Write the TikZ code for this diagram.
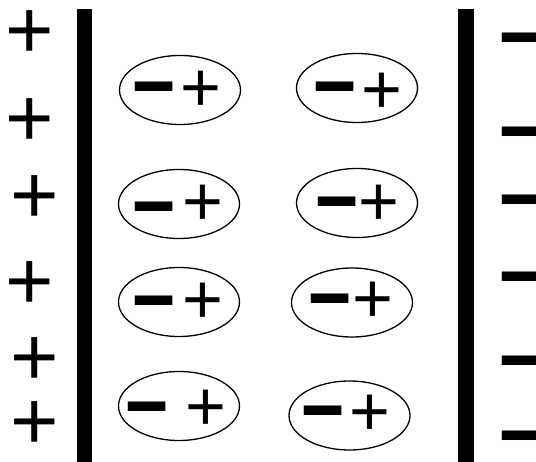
\documentclass[tikz,border=0pt]{standalone}
\usepackage{fontspec}
\usepackage{graphicx}
\setmainfont{Liberation Sans}
\usetikzlibrary{shapes.geometric}
\tikzset{>=latex,
  dipole/.style={draw, ellipse, line width=1.3pt, minimum width=121pt, minimum height=69pt, inner sep=0pt},
  bigplus/.style={inner sep=0pt, text height=48.9pt, text depth=-9.7pt, font=\fontsize{83}{83}\selectfont},
  smallplus/.style={inner sep=0pt, text height=41.2pt, text depth=-8.2pt, font=\fontsize{70}{70}\selectfont},
  thickminus/.style={inner sep=0pt, text height=27pt, text depth=-16pt, yshift=-7pt, font=\fontsize{80}{80}\selectfont\bfseries}}
\newcommand{\thickbar}{\scalebox{1.85}[1]{-}}

\begin{document}
\begin{tikzpicture}[x=1pt, y=-1pt]
    \useasboundingbox (0, 0) rectangle (536, 462);
    % plates
    \fill (77, 9) rectangle (92, 462);
    \fill (458, 9) rectangle (474, 462);
    % charges on the left plate
    \node[bigplus] (p1) at (30, 34) {+};
    \node[bigplus] (p2) at (30, 122) {+};
    \node[bigplus] (p3) at (35, 199) {+};
    \node[bigplus] (p4) at (30, 285) {+};
    \node[bigplus] (p5) at (35, 361) {+};
    \node[bigplus] (p6) at (35, 425) {+};
    % charges on the right plate
    \node[thickminus] (m1) at (521, 38) {\thickbar};
    \node[thickminus] (m2) at (521, 132) {\thickbar};
    \node[thickminus] (m3) at (521, 200) {\thickbar};
    \node[thickminus] (m4) at (521, 277) {\thickbar};
    \node[thickminus] (m5) at (521, 361) {\thickbar};
    \node[thickminus] (m6) at (521, 436) {\thickbar};
    % dipoles, left column
    \node[dipole] (L1) at (180, 90) {};
    \node[thickminus] (L1m) at (154, 87.5) {\thickbar};
    \node[smallplus] (L1p) at (200.5, 90.5) {+};
    \node[dipole] (L2) at (179, 204) {};
    \node[thickminus] (L2m) at (154, 207.5) {\thickbar};
    \node[smallplus] (L2p) at (202.5, 204.5) {+};
    \node[dipole] (L3) at (179, 302) {};
    \node[thickminus] (L3m) at (154, 301.5) {\thickbar};
    \node[smallplus] (L3p) at (203, 302.5) {+};
    \node[dipole] (L4) at (179, 406) {};
    \node[thickminus] (L4m) at (147, 407.5) {\thickbar};
    \node[smallplus] (L4p) at (206, 409.5) {+};
    % dipoles, right column
    \node[dipole] (R1) at (357, 88) {};
    \node[thickminus] (R1m) at (335, 87.5) {\thickbar};
    \node[smallplus] (R1p) at (382, 92.5) {+};
    \node[dipole] (R2) at (357, 203) {};
    \node[thickminus] (R2m) at (337, 202.5) {\thickbar};
    \node[smallplus] (R2p) at (379, 205) {+};
    \node[dipole] (R3) at (352, 302.5) {};
    \node[thickminus] (R3m) at (330, 299) {\thickbar};
    \node[smallplus] (R3p) at (373, 301.5) {+};
    \node[dipole] (R4) at (349.5, 415.5) {};
    \node[thickminus] (R4m) at (323.5, 411) {\thickbar};
    \node[smallplus] (R4p) at (369.5, 414.5) {+};
\end{tikzpicture}
\end{document}
